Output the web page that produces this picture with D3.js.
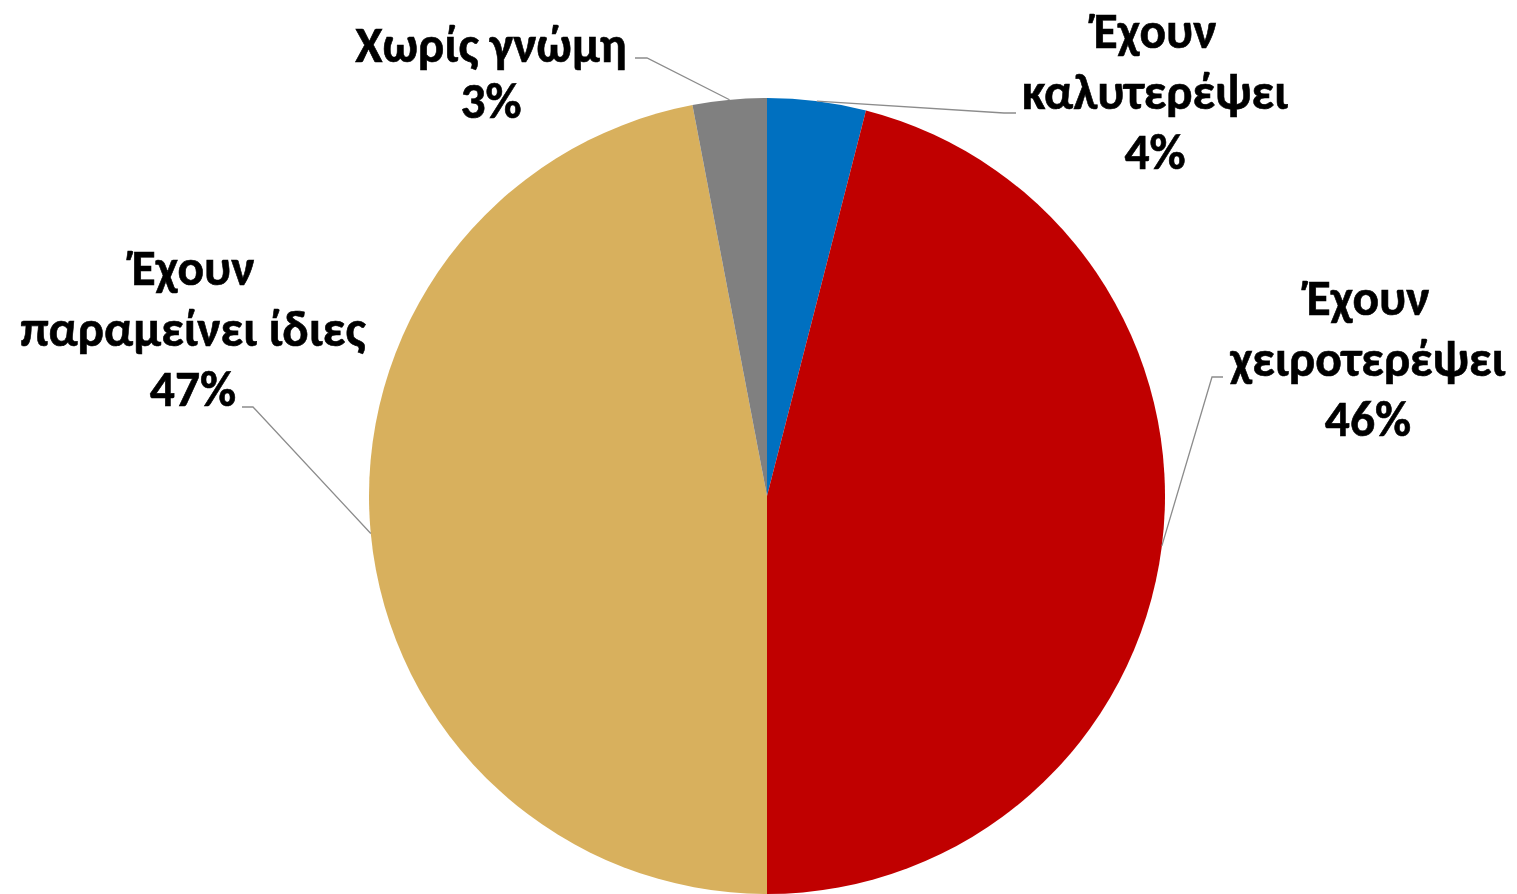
<!DOCTYPE html>
<html><head><meta charset="utf-8">
<script src="https://cdn.jsdelivr.net/npm/d3@7"></script>
<style>html,body{margin:0;padding:0;background:#fff;}</style>
</head><body>
<svg id="chart" width="1517" height="894"></svg>
<script>
const categories = ["Έχουν καλυτερέψει", "Έχουν χειροτερέψει", "Έχουν παραμείνει ίδιες", "Χωρίς γνώμη"];
const values = [4, 46, 47, 3];
const labelLines = [
  ["Έχουν", "καλυτερέψει"],
  ["Έχουν", "χειροτερέψει"],
  ["Έχουν", "παραμείνει ίδιες"],
  ["Χωρίς γνώμη"]
];
const colors = ["#0070C0", "#C00000", "#D8B05D", "#808080"];

// layout (label anchor positions: center x, first baseline y, leader elbow, leader end)
const layout = [
  {x: 1155, y: 48, elbow: [1004, 113], end: [1016, 113]},
  {x: 1368, y: 315, elbow: [1212, 377], end: [1223, 377]},
  {x: 193, y: 285, elbow: [253, 407], end: [242, 407]},
  {x: 491, y: 62, elbow: [647, 58], end: [635, 58]}
];

const cx = 767, cy = 496, R = 398;
const svg = d3.select("#chart");
const g = svg.append("g").attr("transform", `translate(${cx},${cy})`);

const data = categories.map((c, i) => ({name: c, value: values[i], i}));
const pie = d3.pie().value(d => d.value).sort(null);
const arcs = pie(data);
const arc = d3.arc().innerRadius(0).outerRadius(R);

g.selectAll("path.slice").data(arcs).join("path")
  .attr("class", "slice")
  .attr("d", arc)
  .attr("fill", d => colors[d.data.i]);

// leader lines
const fmt = d => Math.round(d.value / d3.sum(values) * 100) + "%";
arcs.forEach(a => {
  const mid = (a.startAngle + a.endAngle) / 2;
  const sx = cx + R * Math.sin(mid), sy = cy - R * Math.cos(mid);
  const L = layout[a.data.i];
  svg.append("polyline")
    .attr("points", [[sx, sy], L.elbow, L.end].map(p => p.join(",")).join(" "))
    .attr("fill", "none").attr("stroke", "#8c8c8c").attr("stroke-width", 1.3);
});

// labels
const lineH = 60.5;
arcs.forEach(a => {
  const L = layout[a.data.i];
  const lines = labelLines[a.data.i].concat([fmt(a)]);
  const t = svg.append("text")
    .attr("text-anchor", "middle")
    .attr("font-family", "Carlito, Calibri, 'Noto Sans', sans-serif")
    .attr("font-weight", "bold")
    .attr("font-size", 49.5)
    .attr("fill", "#000")
    .attr("stroke", "#000")
    .attr("stroke-width", 0.6);
  lines.forEach((s, k) => {
    t.append("tspan").attr("x", L.x).attr("y", L.y + k * (labelLines[a.data.i].length === 1 ? 56 : lineH)).text(s);
  });
});
</script>
</body></html>
